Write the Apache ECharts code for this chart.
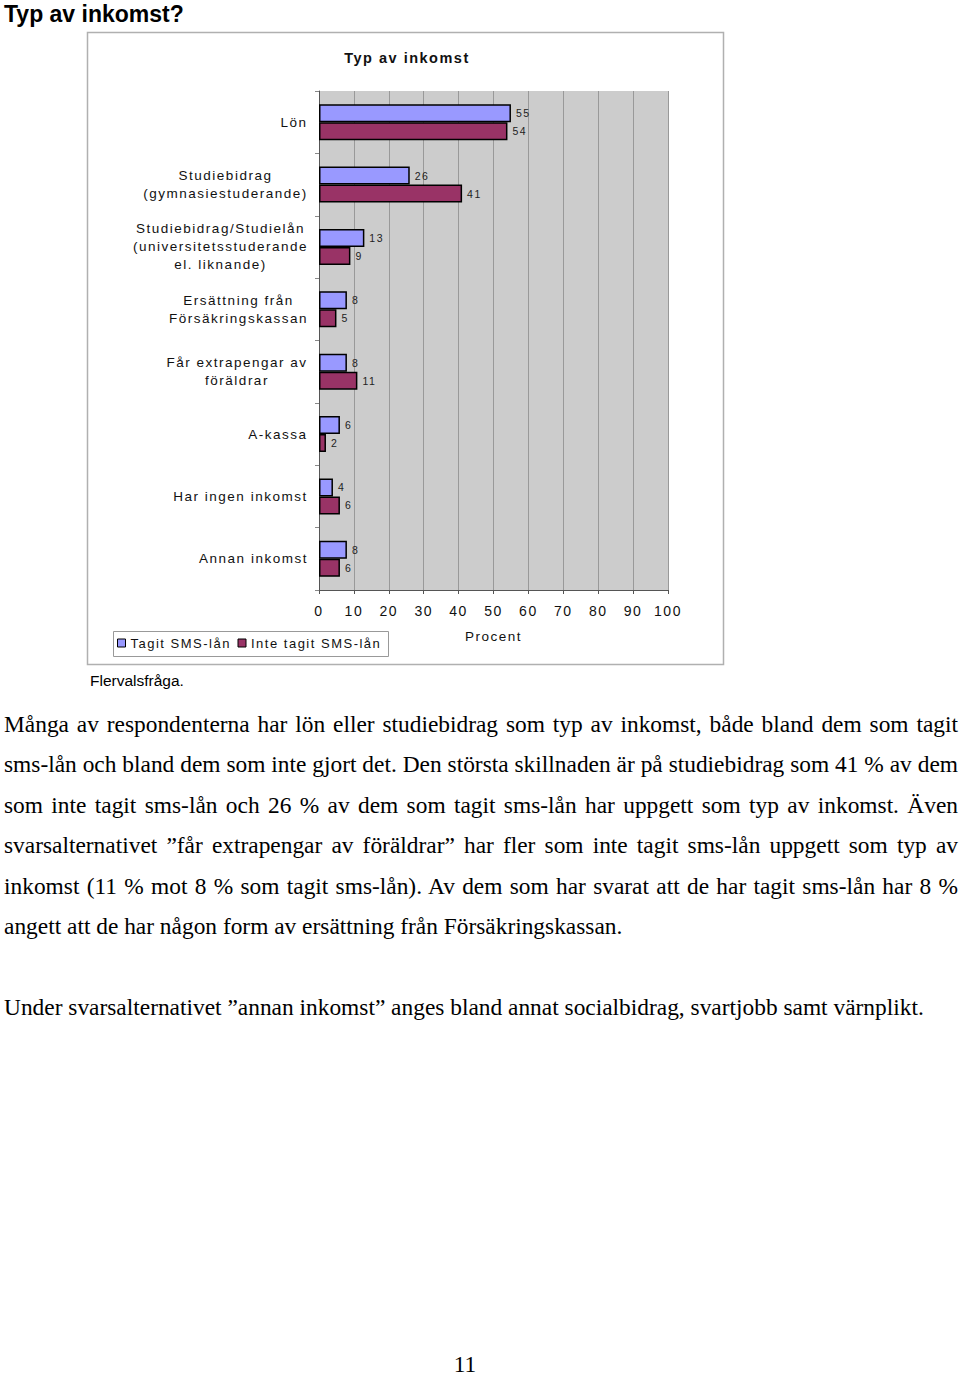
<!DOCTYPE html>
<html>
<head>
<meta charset="utf-8">
<script src="https://cdn.jsdelivr.net/npm/echarts@6/dist/echarts.min.js"></script>
<style>
  html, body { margin: 0; padding: 0; background: #fff; }
  body { width: 960px; height: 1376px; position: relative; overflow: hidden; }
  #chart { position: absolute; left: 0; top: 0; width: 960px; height: 700px; }
  #chart text { letter-spacing: 1.5px; }
  .h1 { position: absolute; left: 4px; top: 2.5px; font: bold 23px/23px "Liberation Sans", Arial, sans-serif; color: #000; white-space: nowrap; }
  .note { position: absolute; left: 90px; top: 671px; font: 15.5px/20px "Liberation Sans", Arial, sans-serif; color: #000; white-space: nowrap; }
  .body { position: absolute; left: 4px; top: 704px; width: 954px; font: 23.4px/40.4px "Liberation Serif", "Times New Roman", serif; color: #000; }
  .body div { height: 40.4px; white-space: nowrap; }
  .body .j { text-align: justify; text-align-last: justify; }
  .pnum { position: absolute; left: 0; width: 930px; text-align: center; top: 1354px; font: 23.4px/20px "Liberation Serif", "Times New Roman", serif; color: #000; }
</style>
</head>
<body>
<div class="h1">Typ av inkomst?</div>
<div id="chart"></div>
<div class="note">Flervalsfråga.</div>
<div class="body">
  <div class="j">Många av respondenterna har lön eller studiebidrag som typ av inkomst, både bland dem som tagit</div>
  <div class="j">sms-lån och bland dem som inte gjort det. Den största skillnaden är på studiebidrag som 41 % av dem</div>
  <div class="j">som inte tagit sms-lån och 26 % av dem som tagit sms-lån har uppgett som typ av inkomst. Även</div>
  <div class="j">svarsalternativet ”får extrapengar av föräldrar” har fler som inte tagit sms-lån uppgett som typ av</div>
  <div class="j">inkomst (11 % mot 8 % som tagit sms-lån). Av dem som har svarat att de har tagit sms-lån har 8 %</div>
  <div>angett att de har någon form av ersättning från Försäkringskassan.</div>
  <div></div>
  <div>Under svarsalternativet ”annan inkomst” anges bland annat socialbidrag, svartjobb samt värnplikt.</div>
</div>
<div class="pnum">11</div>
<script>
// ---- data ----
const chartTitle = 'Typ av inkomst';
const categories = [
  'Lön',
  'Studiebidrag\n(gymnasiestuderande)',
  'Studiebidrag/Studielån\n(universitetsstuderande\nel. liknande)',
  'Ersättning från\nFörsäkringskassan',
  'Får extrapengar av\nföräldrar',
  'A-kassa',
  'Har ingen inkomst',
  'Annan inkomst'
];
const seriesNames = ['Tagit SMS-lån', 'Inte tagit SMS-lån'];
const tagit = [55, 26, 13, 8, 8, 6, 4, 8];
const inteTagit = [54, 41, 9, 5, 11, 2, 6, 6];
const xMin = 0, xMax = 100, xInterval = 10;
const axisName = 'Procent';

// ---- styling ----
const FONT = '"Liberation Sans", Arial, sans-serif';
const LS = 1.5;
const LABEL_SIZE = 13.5;
const measureCtx = document.createElement('canvas').getContext('2d');
function textW(t, size, weight) {
  measureCtx.font = (weight || 'normal') + ' ' + size + 'px ' + FONT;
  return measureCtx.measureText(t).width;
}
const rich = {};
categories.forEach((c, i) => {
  const w = Math.max(...c.split('\n').map(l => textW(l, LABEL_SIZE) + l.length * LS));
  rich['c' + i] = { width: Math.ceil(w), align: 'center', fontSize: LABEL_SIZE, fontFamily: FONT, color: '#111', lineHeight: 18 };
});

const legendLeft = 117;
const secondIconX = 237;
const gap = secondIconX - legendLeft - 8 - 5 - textW(seriesNames[0], 13);

const chart = echarts.init(document.getElementById('chart'), null, { renderer: 'svg' });
chart.setOption({
  animation: false,
  textStyle: { fontFamily: FONT },
  title: {
    text: chartTitle, left: 402, top: 45, textAlign: 'center',
    textStyle: { fontSize: 14.5, fontWeight: 'bold', color: '#111', fontFamily: FONT }
  },
  graphic: [
    { type: 'rect', z: -10, silent: true, shape: { x: 87.5, y: 32.5, width: 636, height: 632 },
      style: { fill: '#fff', stroke: '#b0b0b0', lineWidth: 1.5 } },
    { type: 'rect', z: -5, silent: true, shape: { x: 113.5, y: 631.5, width: 275, height: 25 },
      style: { fill: '#fff', stroke: '#999', lineWidth: 1 } }
  ],
  legend: {
    data: seriesNames, left: legendLeft, top: 636.5, padding: 0,
    itemWidth: 8, itemHeight: 8, itemGap: gap, icon: 'rect',
    itemStyle: { borderColor: '#000', borderWidth: 1 },
    textStyle: { fontSize: 13, color: '#111', fontFamily: FONT, padding: [0, 0, 0, 0] }
  },
  grid: {
    left: 319, top: 91, width: 349, height: 499, show: true,
    backgroundColor: '#cccccc', borderWidth: 0, containLabel: false
  },
  xAxis: {
    type: 'value', min: xMin, max: xMax, interval: xInterval,
    axisLine: { show: true, lineStyle: { color: '#555', width: 1 } },
    axisTick: { show: true, length: 4, lineStyle: { color: '#555' } },
    axisLabel: { fontSize: 14, color: '#111', margin: 14, fontFamily: FONT },
    splitLine: { show: true, lineStyle: { color: '#999', width: 1 } },
    name: axisName, nameLocation: 'middle', nameGap: 39,
    nameTextStyle: { fontSize: 13.5, color: '#111', fontFamily: FONT }
  },
  yAxis: {
    type: 'category', inverse: true, data: categories,
    axisLine: { show: true, lineStyle: { color: '#555', width: 1 } },
    axisTick: { show: true, length: 4, lineStyle: { color: '#888' } },
    axisLabel: {
      margin: 11, align: 'right', interval: 0,
      formatter: (v, idx) => v.split('\n').map(l => '{c' + idx + '|' + l + '}').join('\n'),
      rich: rich
    },
    splitLine: { show: false }
  },
  series: [
    {
      name: seriesNames[0], type: 'bar', data: tagit, barWidth: 18, barGap: '0%',
      itemStyle: { color: '#9999ff', borderColor: '#000', borderWidth: 1.5 },
      label: { show: true, position: 'right', distance: 5, fontSize: 10.5, color: '#222', fontFamily: FONT }
    },
    {
      name: seriesNames[1], type: 'bar', data: inteTagit, barWidth: 18, barGap: '0%',
      itemStyle: { color: '#993366', borderColor: '#000', borderWidth: 1.5 },
      label: { show: true, position: 'right', distance: 5, fontSize: 10.5, color: '#222', fontFamily: FONT }
    }
  ]
});
</script>
</body>
</html>
